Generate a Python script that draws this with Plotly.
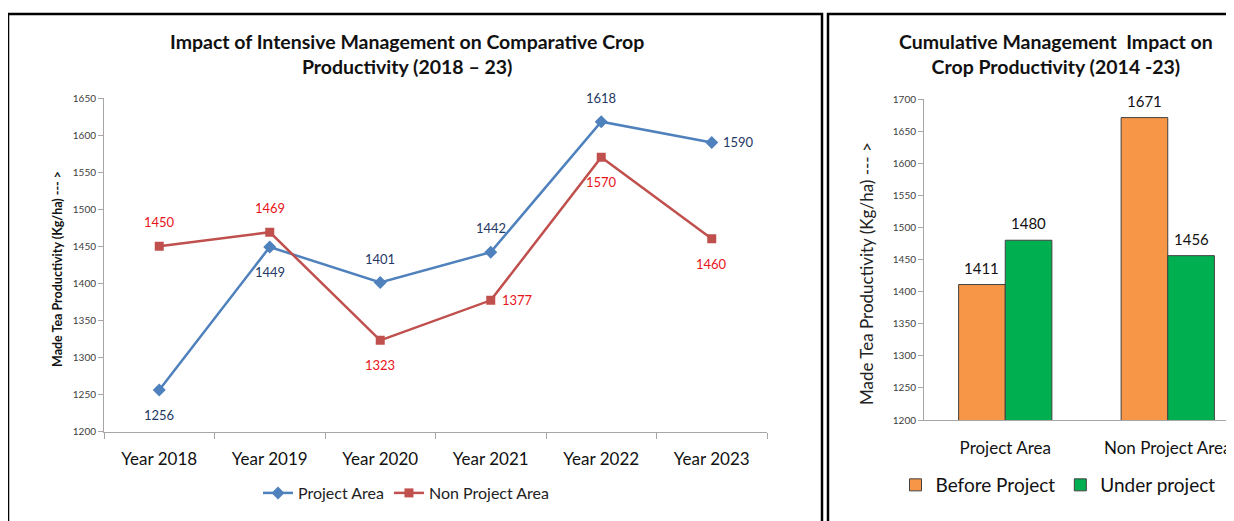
import plotly.graph_objects as go

# line chart data (2018 - 23)
years = ["Year 2018", "Year 2019", "Year 2020", "Year 2021", "Year 2022", "Year 2023"]
project_area = [1256, 1449, 1401, 1442, 1618, 1590]
non_project_area = [1450, 1469, 1323, 1377, 1570, 1460]

# where each data label sits relative to its point
project_label_pos = ["below", "below", "above", "above", "above", "right"]
non_project_label_pos = ["above", "above", "below", "right", "below", "below"]

# bar chart data (2014 - 23)
areas = ["Project Area", "Non Project Area"]
before_project = [1411, 1671]
under_project = [1480, 1456]

W, H = 1234, 521
OFF = 8  # page body margin pushes the plot 8px right and down
FONT = "Lato"


def px(x):
    return (x - OFF) / W


def py(y):
    return 1 - (y - OFF) / H


fig = go.Figure()

# left chart: lines
fig.add_trace(
    go.Scatter(
        x=years,
        y=project_area,
        mode="lines+markers",
        name="Project Area",
        line=dict(color="#4F81BD", width=2.5),
        marker=dict(symbol="diamond", size=10, color="#4F81BD"),
        xaxis="x",
        yaxis="y",
        legend="legend",
    )
)
fig.add_trace(
    go.Scatter(
        x=years,
        y=non_project_area,
        mode="lines+markers",
        name="Non Project Area",
        line=dict(color="#C0504D", width=2.5),
        marker=dict(symbol="square", size=9, color="#C0504D"),
        xaxis="x",
        yaxis="y",
        legend="legend",
    )
)

# right chart: bars
fig.add_trace(
    go.Bar(
        x=areas,
        y=before_project,
        name="Before Project",
        marker=dict(color="#F79646", line=dict(color="#404040", width=1)),
        xaxis="x2",
        yaxis="y2",
        legend="legend2",
    )
)
fig.add_trace(
    go.Bar(
        x=areas,
        y=under_project,
        name="Under project",
        marker=dict(color="#00B050", line=dict(color="#404040", width=1)),
        xaxis="x2",
        yaxis="y2",
        legend="legend2",
    )
)

# data labels on the line chart
annotations = []
shift = {"above": (0, 24), "below": (0, -25), "right": (27, 0)}
for values, positions, color in [
    (project_area, project_label_pos, "#1F3864"),
    (non_project_area, non_project_label_pos, "#E8141B"),
]:
    for yr, val, pos in zip(years, values, positions):
        dx, dy = shift[pos]
        annotations.append(
            dict(
                x=yr, y=val, xref="x", yref="y", text=str(val), showarrow=False,
                xanchor="center", yanchor="middle",
                xshift=dx, yshift=dy, font=dict(size=13, color=color, family=FONT),
            )
        )

# value labels above the bars (offset by half a bar group)
for values, offset in [(before_project, -0.1435), (under_project, 0.1435)]:
    for i, val in enumerate(values):
        annotations.append(
            dict(
                x=i + offset, y=val, xref="x2", yref="y2", text=str(val),
                showarrow=False, xanchor="center", yanchor="bottom", yshift=6,
                font=dict(size=15, color="#111111", family=FONT),
            )
        )

# titles and y-axis titles
title_font = dict(size=19.5, color="#111111", family=FONT, weight="bold")
annotations += [
    dict(
        x=px(407), y=py(54), xref="paper", yref="paper", showarrow=False,
        xanchor="center", yanchor="middle",
        text="Impact of Intensive Management on Comparative Crop<br>Productivity (2018 \u2013 23)",
        font=title_font, align="center",
    ),
    dict(
        x=px(1056), y=py(54), xref="paper", yref="paper", showarrow=False,
        xanchor="center", yanchor="middle",
        text="Cumulative Management  Impact on<br>Crop Productivity (2014 -23)",
        font=title_font, align="center",
    ),
    dict(
        x=px(57), y=py(269), xref="paper", yref="paper", showarrow=False,
        xanchor="center", yanchor="middle",
        text="Made Tea Productivity (Kg/ha) --- >", textangle=-90,
        font=dict(size=12.5, color="#111111", family=FONT, weight="bold"),
    ),
    dict(
        x=px(866), y=py(274), xref="paper", yref="paper", showarrow=False,
        xanchor="center", yanchor="middle",
        text="Made Tea Productivity (Kg/ha) --- >", textangle=-90,
        font=dict(size=17, color="#222222", family=FONT),
    ),
]

# panel borders
shapes = [
    dict(type="rect", xref="paper", yref="paper", x0=px(8), x1=px(822),
         y0=-0.05, y1=py(14), line=dict(color="black", width=2.5)),
    dict(type="rect", xref="paper", yref="paper", x0=px(828), x1=1.05,
         y0=-0.05, y1=py(14), line=dict(color="black", width=2.5)),
]

axis_grey = "#A6A6A6"
tick_font = dict(size=10, color="#404040", family=FONT)

fig.update_layout(
    width=W,
    height=H,
    margin=dict(l=0, r=0, t=0, b=0),
    paper_bgcolor="white",
    plot_bgcolor="white",
    font=dict(family=FONT, color="#222222"),
    barmode="group",
    bargap=0.426,
    bargroupgap=0,
    xaxis=dict(
        domain=[px(104), px(767)],
        type="category",
        range=[-0.5, 5.5],
        tickson="boundaries",
        ticks="outside",
        ticklen=6,
        tickcolor=axis_grey,
        showline=True,
        linecolor=axis_grey,
        showgrid=False,
        automargin=False,
        ticklabelstandoff=12,
        tickfont=dict(size=17, color="#111111", family=FONT),
        anchor="y",
    ),
    yaxis=dict(
        domain=[py(431.5), py(98)],
        range=[1200, 1650],
        dtick=50,
        ticks="outside",
        ticklen=5,
        tickcolor=axis_grey,
        showline=True,
        linecolor=axis_grey,
        showgrid=False,
        zeroline=False,
        automargin=False,
        tickfont=tick_font,
        anchor="x",
    ),
    xaxis2=dict(
        domain=[px(924), 1.0],
        type="category",
        range=[-0.5, -0.5 + (W - (924 - OFF)) / 162.5],
        ticks="",
        showline=True,
        linecolor=axis_grey,
        showgrid=False,
        automargin=False,
        ticklabelstandoff=13,
        tickfont=dict(size=17, color="#111111", family=FONT),
        anchor="y2",
    ),
    yaxis2=dict(
        domain=[py(420), py(99)],
        range=[1200, 1700],
        dtick=50,
        ticks="outside",
        ticklen=5,
        tickcolor=axis_grey,
        showline=True,
        linecolor=axis_grey,
        showgrid=False,
        zeroline=False,
        automargin=False,
        tickfont=tick_font,
        anchor="x2",
    ),
    legend=dict(
        orientation="h",
        x=px(406), y=py(493),
        xanchor="center", yanchor="middle",
        font=dict(size=16, color="#222222", family=FONT),
        bgcolor="rgba(0,0,0,0)",
        itemwidth=30,
    ),
    legend2=dict(
        orientation="h",
        x=px(1058), y=py(485),
        xanchor="center", yanchor="middle",
        font=dict(size=19, color="#111111", family=FONT),
        bgcolor="rgba(0,0,0,0)",
        itemwidth=30,
    ),
    annotations=annotations,
    shapes=shapes,
)

fig.write_html("out.html")
